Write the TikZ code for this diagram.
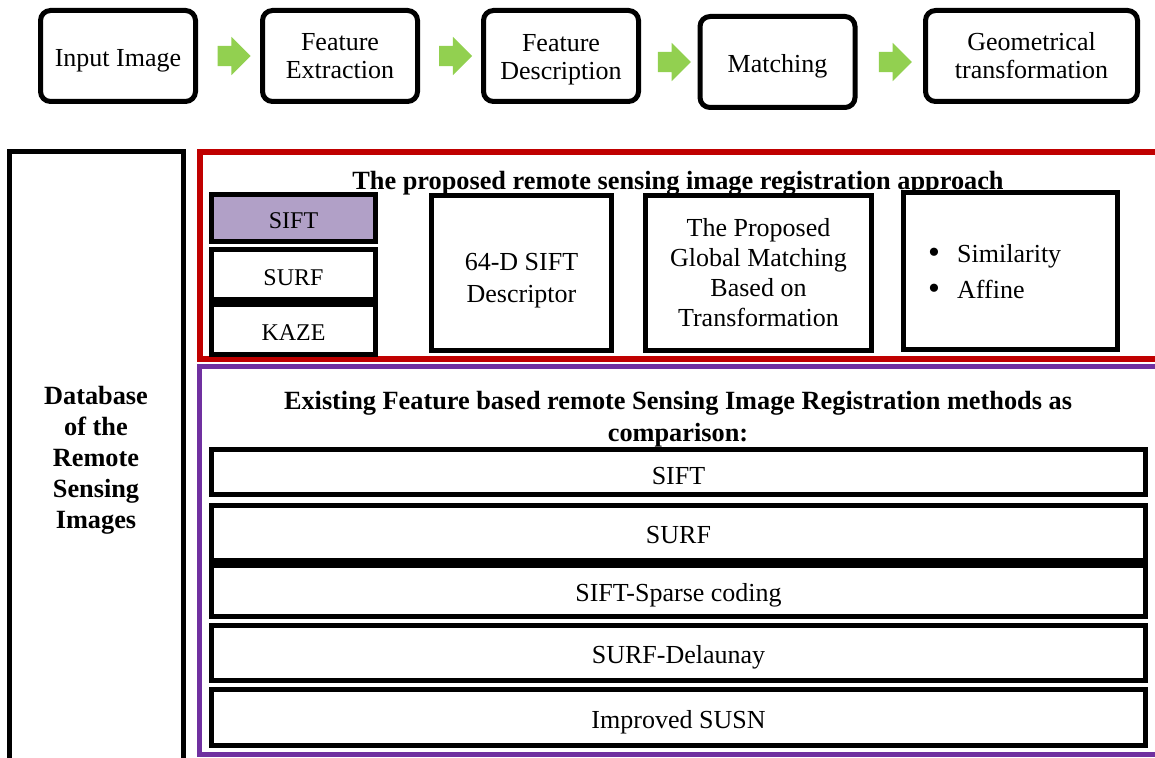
\documentclass[tikz,border=0pt]{standalone}
\usepackage{fontspec}
\setmainfont{Liberation Serif}
\usepackage{tikz}
\usetikzlibrary{calc,shapes.arrows}

\definecolor{framered}{HTML}{C00000}
\definecolor{framepurple}{HTML}{7030A0}
\definecolor{siftfill}{HTML}{B1A0C7}
\definecolor{arrowgreen}{HTML}{92D050}

\tikzset{
  stage/.style={draw, line width=5pt, rounded corners=10pt, minimum width=155pt, minimum height=91pt,
    align=center, inner sep=0pt, font=\fontsize{26}{28}\selectfont},
  block/.style={draw, line width=5pt, fill=white, align=center, inner sep=0pt, font=\fontsize{26}{30}\selectfont},
  oneline/.style={text height=23pt, text depth=2pt},
  method/.style={block, oneline, minimum width=934pt},
  detector/.style={block, oneline, minimum width=164pt, font=\fontsize{24}{28}\selectfont},
  flow/.style={single arrow, fill=arrowgreen, draw=none, minimum height=33pt,
    single arrow head extend=9pt, inner xsep=0pt, inner ysep=10pt},
  heading/.style={align=center, inner sep=0pt, font=\bfseries\fontsize{26.3}{32}\selectfont},
}

\newcommand{\bulletitem}[1]{\makebox[29pt][l]{\raisebox{-1pt}{\fontsize{34}{36}\selectfont\textbullet}}#1}

\begin{document}
\begin{tikzpicture}[x=1pt, y=-1pt]

    \useasboundingbox (0,0) rectangle (1155,757);
    \clip (0,0) rectangle (1155,757);

    % Pipeline
    \node[stage, oneline] (input) at (118,56) {Input Image};
    \node[stage] (extract) at (340,56) {Feature\\Extraction};
    \node[stage] (describe) at (561,56) {\rule{0pt}{24pt}Feature\\Description};
    \node[stage, oneline] (match) at (777.5,62) {Matching};
    \node[stage, minimum width=212pt] (geom) at (1031.5,56) {Geometrical\\transformation};

    % Green arrows between the stages
    \node[flow] (flowa) at ($(input.east)!0.5!(extract.west)$) {};
    \node[flow] (flowb) at ($(extract.east)!0.5!(describe.west)$) {};
    \node[flow] (flowc) at ($(describe.east |- match.west)!0.5!(match.west)$) {};
    \node[flow] (flowd) at ($(match.east)!0.5!(geom.west |- match.east)$) {};

    % Database column
    \node[block, minimum width=174pt, minimum height=611pt] (db) at (96.5,457) {};
    \node[heading, font=\bfseries\fontsize{26.3}{31}\selectfont] (dbtext) at (96,460)
        {Database\\of the\\Remote\\Sensing\\Images};

    % Proposed approach (red frame)
    \draw[framered, line width=6pt] (200,152) rectangle (1175,359);
    \node[heading] (proposed) at (678,183) {The proposed remote sensing image registration approach};

    \node[detector, fill=siftfill, minimum height=47pt] (sift) at (293.5,218) {SIFT};
    \node[detector, minimum height=50pt] (surf) at (293.5,274.5) {SURF};
    \node[detector, minimum height=50pt] (kaze) at (293.5,329.5) {KAZE};

    \node[block, minimum width=180pt, minimum height=155pt] (desc) at (521.5,273)
        {\rule{0pt}{32pt}64-D SIFT\\[2pt]Descriptor};
    \node[block, minimum width=226pt, minimum height=155pt] (global) at (758.5,273)
        {The Proposed\\Global Matching\\Based on\\Transformation};
    \node[block, minimum width=214pt, minimum height=157pt] (trans) at (1010.5,271) {};
    \node[align=left, inner sep=0pt, anchor=west, font=\fontsize{26}{36}\selectfont] (transtext) at (928,272)
        {\bulletitem{Similarity}\\\bulletitem{Affine}};

    % Existing methods (purple frame)
    \draw[framepurple, line width=5pt] (199.5,366.5) rectangle (1175,754.5);
    \node[heading] (existing) at (678,419)
        {Existing Feature based remote Sensing Image Registration methods as\\comparison:};

    \node[method, minimum height=45pt, text height=26pt] (msift) at (678.5,472) {SIFT};
    \node[method, minimum height=55pt] (msurf) at (678.5,533) {SURF};
    \node[method, minimum height=51pt] (msparse) at (678.5,591) {SIFT-Sparse coding};
    \node[method, minimum height=55pt] (mdelaunay) at (678.5,653) {SURF-Delaunay};
    \node[method, minimum height=56pt] (msusn) at (678.5,717.5) {Improved SUSN};

\end{tikzpicture}
\end{document}
